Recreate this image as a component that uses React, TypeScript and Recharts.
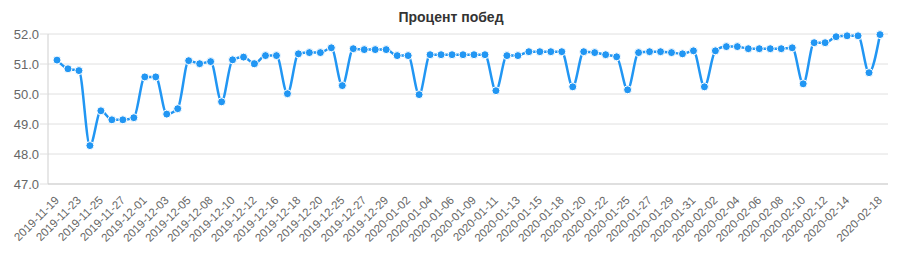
import { LineChart, Line, XAxis, YAxis, CartesianGrid } from 'recharts'

const dates = [
  '2019-11-19', '2019-11-21', '2019-11-23', '2019-11-24', '2019-11-25', '2019-11-26',
  '2019-11-27', '2019-11-29', '2019-12-01', '2019-12-02', '2019-12-03', '2019-12-04',
  '2019-12-05', '2019-12-07', '2019-12-08', '2019-12-09', '2019-12-10', '2019-12-11',
  '2019-12-12', '2019-12-14', '2019-12-16', '2019-12-17', '2019-12-18', '2019-12-19',
  '2019-12-20', '2019-12-23', '2019-12-25', '2019-12-26', '2019-12-27', '2019-12-28',
  '2019-12-29', '2019-12-31', '2020-01-02', '2020-01-03', '2020-01-04', '2020-01-05',
  '2020-01-06', '2020-01-08', '2020-01-09', '2020-01-10', '2020-01-11', '2020-01-12',
  '2020-01-13', '2020-01-14', '2020-01-15', '2020-01-17', '2020-01-18', '2020-01-19',
  '2020-01-20', '2020-01-21', '2020-01-22', '2020-01-24', '2020-01-25', '2020-01-26',
  '2020-01-27', '2020-01-28', '2020-01-29', '2020-01-30', '2020-01-31', '2020-02-01',
  '2020-02-02', '2020-02-03', '2020-02-04', '2020-02-05', '2020-02-06', '2020-02-07',
  '2020-02-08', '2020-02-09', '2020-02-10', '2020-02-11', '2020-02-12', '2020-02-13',
  '2020-02-14', '2020-02-15', '2020-02-16', '2020-02-18',
]

const winRate = [
  51.13, 50.84, 50.78, 48.28, 49.44, 49.14, 49.14, 49.21, 50.57, 50.57,
  49.33, 49.51, 51.11, 51.01, 51.08, 49.74, 51.14, 51.23, 51.01, 51.28,
  51.28, 50.01, 51.34, 51.38, 51.38, 51.54, 50.28, 51.51, 51.48, 51.48,
  51.48, 51.28, 51.28, 49.98, 51.31, 51.31, 51.31, 51.31, 51.31, 51.31,
  50.11, 51.28, 51.28, 51.41, 51.41, 51.41, 51.41, 50.24, 51.41, 51.38,
  51.31, 51.24, 50.14, 51.38, 51.41, 51.41, 51.38, 51.34, 51.44, 50.24,
  51.44, 51.58, 51.58, 51.51, 51.51, 51.51, 51.51, 51.54, 50.34, 51.71,
  51.71, 51.91, 51.94, 51.94, 50.71, 51.98,
]

const tickLabels = [
  '2019-11-19', '2019-11-23', '2019-11-25', '2019-11-27', '2019-12-01', '2019-12-03',
  '2019-12-05', '2019-12-08', '2019-12-10', '2019-12-12', '2019-12-16', '2019-12-18',
  '2019-12-20', '2019-12-25', '2019-12-27', '2019-12-29', '2020-01-02', '2020-01-04',
  '2020-01-06', '2020-01-09', '2020-01-11', '2020-01-13', '2020-01-15', '2020-01-18',
  '2020-01-20', '2020-01-22', '2020-01-25', '2020-01-27', '2020-01-29', '2020-01-31',
  '2020-02-02', '2020-02-04', '2020-02-06', '2020-02-08', '2020-02-10', '2020-02-12',
  '2020-02-14', '2020-02-18',
]

const yTicks = [47, 47.5, 48, 48.5, 49, 49.5, 50, 50.5, 51, 51.5, 52]

const FONT = '"Liberation Sans", Arial, sans-serif'
const BLUE = '#2196f3'

const data = dates.map((date, i) => ({ date, value: winRate[i] }))

function DateTick({ x, y, payload }: any) {
  return (
    <g transform={`translate(${x},${y + 6})`}>
      <text
        x={0}
        y={0}
        dy="0.35em"
        textAnchor="end"
        transform="rotate(-45)"
        fill="#666"
        fontSize={11.5}
        fontFamily={FONT}
      >
        {payload.value}
      </text>
    </g>
  )
}

export default function App() {
  return (
    <div style={{ position: 'absolute', left: 0, top: 0, width: 914, height: 265, background: '#fff' }}>
      <div
        style={{
          position: 'absolute',
          left: 0,
          width: 902,
          top: 9,
          textAlign: 'center',
          fontFamily: FONT,
          fontWeight: 'bold',
          fontSize: 14,
          color: '#333',
        }}
      >
        Процент побед
      </div>
      <LineChart width={914} height={265} data={data} margin={{ top: 34, right: 26, bottom: 0, left: 0 }}>
        <CartesianGrid vertical={false} stroke="#e0e0e0" />
        <XAxis
          dataKey="date"
          ticks={tickLabels}
          interval={0}
          tickLine={false}
          axisLine={{ stroke: '#cfcfcf' }}
          padding={{ left: 9, right: 8 }}
          height={81}
          tick={<DateTick />}
        />
        <YAxis
          domain={[47, 52]}
          ticks={yTicks}
          width={48}
          tickSize={8}
          tickMargin={1}
          tickLine={{ stroke: '#e0e0e0' }}
          axisLine={{ stroke: '#cfcfcf' }}
          tickFormatter={(v: number) => v.toFixed(1)}
          tick={{ fill: '#666', fontSize: 13, fontFamily: FONT }}
        />
        <Line
          type="monotone"
          dataKey="value"
          stroke={BLUE}
          strokeWidth={2.5}
          dot={{ r: 4, fill: BLUE, stroke: '#fff', strokeWidth: 1 }}
          isAnimationActive={false}
        />
      </LineChart>
    </div>
  )
}
